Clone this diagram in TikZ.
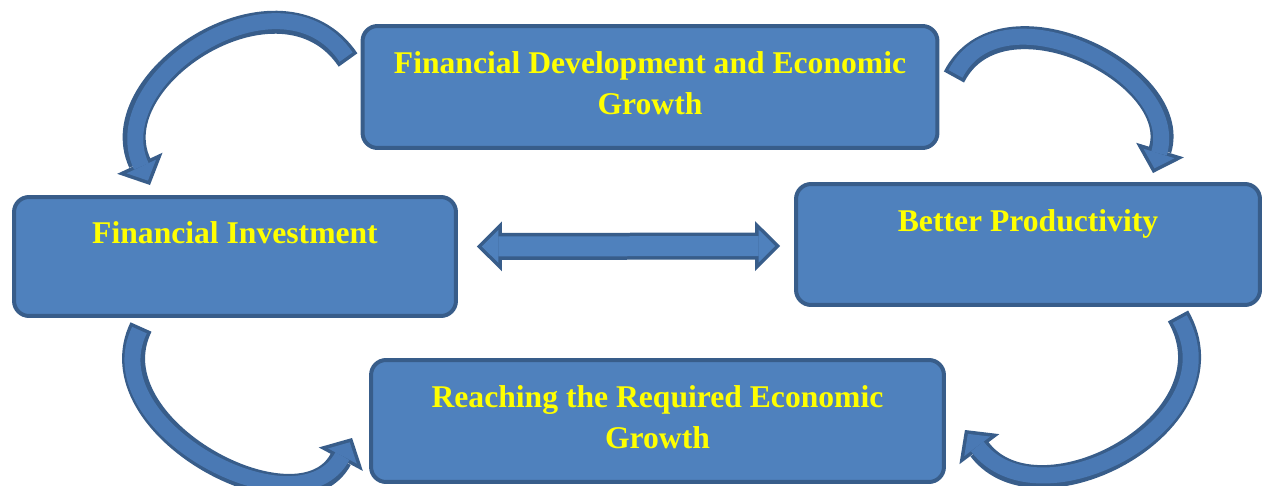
\documentclass[tikz,border=0pt]{standalone}
\usepackage{fontspec}
\setmainfont{Liberation Serif}
\usetikzlibrary{arrows.meta,calc}
\definecolor{boxblue}{HTML}{4F81BD}
\definecolor{boxline}{HTML}{385D8A}
\definecolor{arcblue}{HTML}{4A79B4}
\definecolor{txtyellow}{HTML}{FFFF00}
\tikzset{
  box/.style={draw=boxline, fill=boxblue, line width=0.08cm, rounded corners=0.3cm, align=center, text=txtyellow, inner sep=0pt, font=\fontsize{18}{23.3}\selectfont\bfseries},
  bandout/.style={draw=boxline, line width=0.46cm, -{Triangle[length=0.48cm, width=1cm, line width=0pt]}},
  bandin/.style={draw=arcblue, line width=0.32cm, shorten <=0.07cm, shorten >=0.097cm, -{Triangle[length=0.312cm, width=0.65cm, line width=0pt]}},
  dblout/.style={draw=boxline, line width=0.54cm, {Triangle[length=0.5cm, width=1cm, line width=0pt]}-{Triangle[length=0.5cm, width=1cm, line width=0pt]}},
  dblin/.style={draw=boxblue, line width=0.4cm, shorten <=0.1cm, shorten >=0.1cm, {Triangle[length=0.33cm, width=0.66cm, line width=0pt]}-{Triangle[length=0.33cm, width=0.66cm, line width=0pt]}},
}
\begin{document}
\begin{tikzpicture}[x=0.02cm, y=-0.02cm]
    \useasboundingbox (0, 0) rectangle (1264, 486);
    \path (650, 87) node[box, minimum width=11.5cm, minimum height=2.44cm, text depth=4pt] (fdev) {Financial Development and Economic\\Growth}
        (235, 256.5) node[box, minimum width=8.84cm, minimum height=2.38cm, text depth=4.5pt] (finv) {Financial Investment\\~}
        (1028, 244.5) node[box, minimum width=9.28cm, minimum height=2.42cm, text depth=4.5pt] (prod) {Better Productivity\\~}
        (657.5, 421) node[box, minimum width=11.46cm, minimum height=2.44cm, text depth=4pt] (reach) {Reaching the Required Economic\\Growth};
    \coordinate (dl) at ($(finv.east)+(19, -10)$);
    \coordinate (dr) at ($(prod.west)+(-14, 1.5)$);
    \draw[dblout] (dl) -- (dr);
    \draw[dblin] (dl) -- (dr);
    \draw[bandout] ($(fdev.west)+(-12.5, -27)$) to[out=124, in=115, looseness=1.3] ($(finv.north)+(-85, -10)$);
    \draw[bandin] ($(fdev.west)+(-12.5, -27)$) to[out=124, in=115, looseness=1.3] ($(finv.north)+(-85, -10)$);
    \draw[bandout] ($(fdev.east)+(14.5, -10)$) to[out=63, in=73, looseness=1.2] ($(prod.north)+(125, -9)$);
    \draw[bandin] ($(fdev.east)+(14.5, -10)$) to[out=63, in=73, looseness=1.2] ($(prod.north)+(125, -9)$);
    \draw[bandout] ($(finv.south)+(-94, 9)$) to[out=244, in=242, looseness=1.2] ($(reach.west)+(-17, 17)$);
    \draw[bandin] ($(finv.south)+(-94, 9)$) to[out=244, in=242, looseness=1.2] ($(reach.west)+(-17, 17)$);
    \draw[bandout] ($(prod.south)+(150, 9)$) to[out=-60, in=-53, looseness=1.3] ($(reach.east)+(19, 9)$);
    \draw[bandin] ($(prod.south)+(150, 9)$) to[out=-60, in=-53, looseness=1.3] ($(reach.east)+(19, 9)$);
\end{tikzpicture}
\end{document}
